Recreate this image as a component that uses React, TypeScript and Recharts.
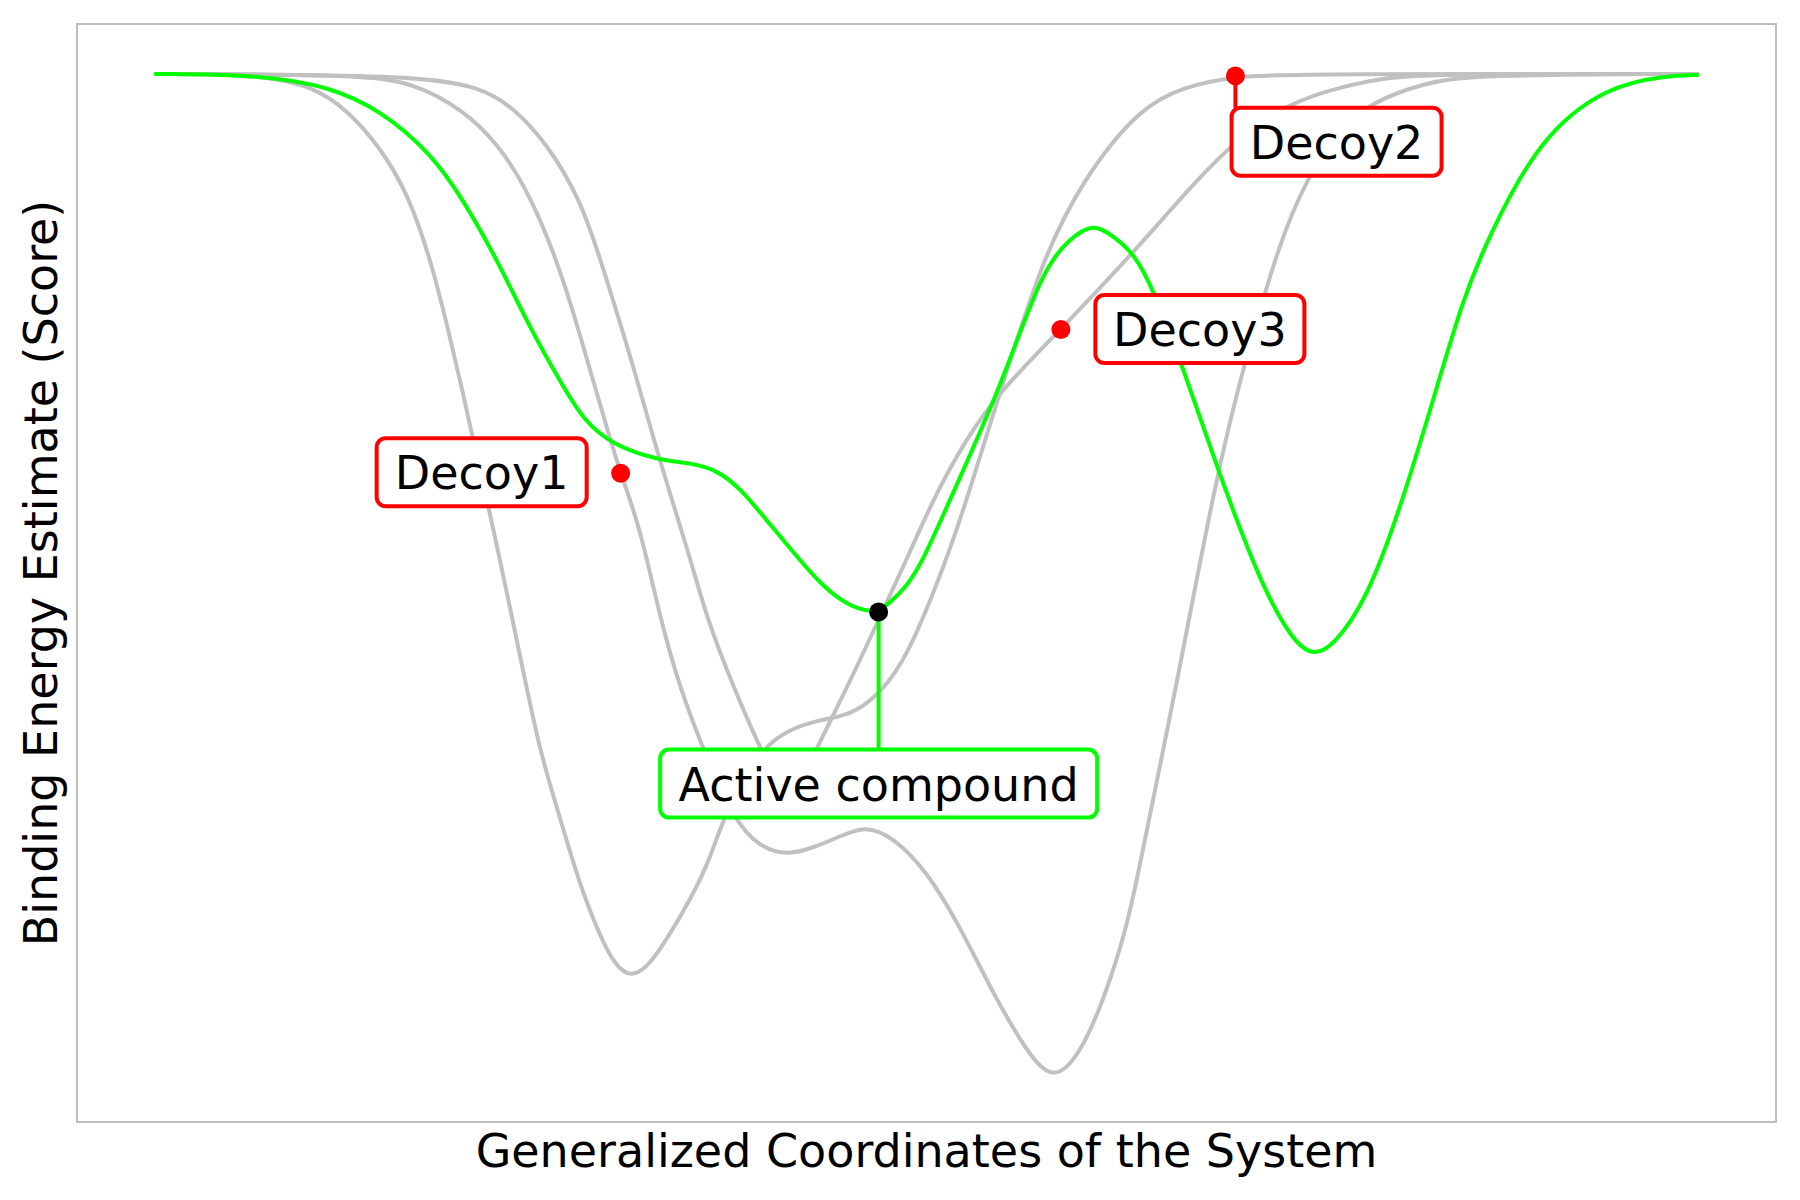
import React from 'react';
import { LineChart, Line, XAxis, YAxis, ReferenceDot, ReferenceLine, ReferenceArea } from 'recharts';

type Pt = [number, number];

// x = generalized coordinate, y = score (0 = unbound plateau, lower = stronger binding)
const activeCurve: Pt[] = [
  [0, 0], [0.7, -0.01], [1.14, -0.13], [1.46, -0.36], [1.79, -0.79], [2.0, -1.26], [2.22, -1.86],
  [2.43, -2.54], [2.65, -3.14], [2.78, -3.47], [2.97, -3.72], [3.26, -3.87], [3.49, -3.9], [3.64, -3.97],
  [3.79, -4.14], [3.99, -4.52], [4.18, -4.87], [4.31, -5.1], [4.44, -5.27], [4.57, -5.37], [4.69, -5.39],
  [4.76, -5.3], [4.87, -5.14], [4.98, -4.87], [5.15, -4.27], [5.48, -3.14], [5.75, -1.96], [5.92, -1.66],
  [6.08, -1.49], [6.21, -1.63], [6.34, -1.79], [6.47, -2.16], [6.66, -2.94], [6.88, -3.94], [7.16, -5.1],
  [7.37, -5.68], [7.5, -5.83], [7.63, -5.74], [7.85, -5.27], [8.07, -4.34], [8.28, -3.27], [8.47, -2.27],
  [8.63, -1.66], [8.97, -0.63], [9.41, -0.12], [9.78, -0.02], [10, -0.01],
];

// early deep well, shoulder, passes Decoy2
const decoyCurveA: Pt[] = [
  [0, 0], [0.7, -0.01], [1.03, -0.13], [1.25, -0.36], [1.46, -0.73], [1.64, -1.19], [1.79, -1.86],
  [1.9, -2.54], [2.0, -3.2], [2.06, -3.64], [2.17, -4.37], [2.32, -5.47], [2.41, -6.14], [2.5, -6.8],
  [2.63, -7.47], [2.76, -8.15], [2.89, -8.65], [2.98, -8.92], [3.08, -9.05], [3.18, -8.96], [3.26, -8.81],
  [3.42, -8.41], [3.58, -7.95], [3.68, -7.47], [3.81, -7.1], [3.94, -6.75], [4.12, -6.56], [4.29, -6.48],
  [4.44, -6.44], [4.55, -6.38], [4.7, -6.2], [4.87, -5.87], [5.13, -4.87], [5.26, -4.27], [5.5, -3.07],
  [5.75, -1.86], [6.01, -1.06], [6.38, -0.34], [6.66, -0.13], [7.0, -0.02], [7.46, 0], [10, 0],
];

// passes Decoy1, two wells with the global minimum
const decoyCurveB: Pt[] = [
  [0, 0], [1.35, -0.01], [1.68, -0.09], [2.0, -0.36], [2.22, -0.69], [2.43, -1.19], [2.65, -2.03],
  [2.84, -3.07], [2.96, -3.7], [3.02, -4.0], [3.15, -4.57], [3.27, -5.42], [3.4, -6.14], [3.55, -6.75],
  [3.75, -7.47], [3.92, -7.75], [4.1, -7.83], [4.27, -7.75], [4.44, -7.64], [4.6, -7.53], [4.78, -7.64],
  [5.0, -7.98], [5.22, -8.55], [5.43, -9.21], [5.65, -9.8], [5.82, -10.1], [5.99, -9.83], [6.14, -9.31],
  [6.3, -8.55], [6.4, -7.78], [6.51, -6.94], [6.6, -6.27], [6.88, -4.0], [7.05, -2.94], [7.29, -1.66],
  [7.46, -1.06], [7.68, -0.53], [7.89, -0.28], [8.22, -0.09], [8.54, -0.01], [10, 0],
];

// narrow well, passes Decoy3
const decoyCurveC: Pt[] = [
  [0, 0], [1.68, -0.01], [2.11, -0.13], [2.32, -0.33], [2.54, -0.69], [2.76, -1.26], [2.89, -1.86],
  [3.13, -3.07], [3.27, -3.87], [3.45, -4.74], [3.58, -5.47], [3.75, -6.14], [3.92, -6.75], [4.03, -7.07],
  [4.11, -7.2], [4.19, -7.09], [4.29, -6.75], [4.51, -6.07], [4.69, -5.47], [4.87, -4.87], [5.04, -4.27],
  [5.25, -3.67], [5.48, -3.17], [5.87, -2.56], [6.34, -1.79], [6.75, -1.06], [7.03, -0.63], [7.35, -0.29],
  [7.68, -0.13], [8.0, -0.03], [8.33, 0], [10, 0],
];

const markers = [
  { name: 'Active compound', x: 4.69, y: -5.39 },
  { name: 'Decoy1', x: 3.02, y: -4.0 },
  { name: 'Decoy2', x: 7.0, y: -0.02 },
  { name: 'Decoy3', x: 5.87, y: -2.56 },
];

// label placement (text centre in data units, box size in px)
const labelLayout: Record<string, { x: number; y: number; w: number; color: string; lineTo?: number }> = {
  'Active compound': { x: 4.69, y: -7.11, w: 437, color: '#00ff00', lineTo: -6.77 },
  Decoy1: { x: 2.12, y: -3.99, w: 210, color: '#ff0000' },
  Decoy2: { x: 7.655, y: -0.68, w: 210, color: '#ff0000', lineTo: -0.34 },
  Decoy3: { x: 6.77, y: -2.555, w: 209, color: '#ff0000' },
};

const FONT = '"DejaVu Sans", Verdana, sans-serif';
const FS = 46;
const GRAY = '#c0c0c0';
const LW = 4;
const toRows = (pts: Pt[]) => pts.map(([x, y]) => ({ x, y }));

function LabelBox(props: any) {
  const { cx, cy, text, w, color } = props;
  const h = 68;
  return (
    <g>
      <rect x={cx - w / 2} y={cy - h / 2} width={w} height={h} rx={9} ry={9}
        fill="#ffffff" stroke={color} strokeWidth={LW} />
      <text x={cx} y={cy + 17} textAnchor="middle" fontSize={FS} fontFamily={FONT} fill="#000">{text}</text>
    </g>
  );
}

export default function App() {
  return (
    <div style={{ position: 'absolute', left: 0, top: 0, width: 1800, height: 1200, background: '#fff' }}>
      <LineChart width={1800} height={1200} margin={{ top: 24, right: 24, bottom: 78, left: 77 }}>
        <XAxis type="number" dataKey="x" domain={[-0.5, 10.5]} allowDataOverflow hide />
        <YAxis type="number" domain={[-10.5, 0.5]} allowDataOverflow hide />
        <ReferenceArea x1={-0.5} x2={10.5} y1={-10.5} y2={0.5} fill="none" stroke="#bdbdbd" strokeWidth={2} />
        {[decoyCurveA, decoyCurveB, decoyCurveC].map((c, i) => (
          <Line key={i} data={toRows(c)} dataKey="y" type="basis" stroke={GRAY} strokeWidth={LW}
            dot={false} activeDot={false} isAnimationActive={false} />
        ))}
        <Line data={toRows(activeCurve)} dataKey="y" type="basis" stroke="#00ff00" strokeWidth={LW}
          dot={false} activeDot={false} isAnimationActive={false} />
        {markers.map((m) => {
          const lay = labelLayout[m.name];
          return lay.lineTo !== undefined ? (
            <ReferenceLine key={'c' + m.name} segment={[{ x: m.x, y: m.y }, { x: m.x, y: lay.lineTo }]}
              stroke={lay.color} strokeWidth={LW} />
          ) : null;
        })}
        {markers.map((m) => (
          <ReferenceDot key={'d' + m.name} x={m.x} y={m.y} r={9.5} stroke="none"
            fill={m.name === 'Active compound' ? '#000000' : '#ff0000'} />
        ))}
        {markers.map((m) => {
          const lay = labelLayout[m.name];
          return (
            <ReferenceDot key={'l' + m.name} x={lay.x} y={lay.y} r={1}
              shape={(p: any) => <LabelBox cx={p.cx} cy={p.cy} text={m.name} w={lay.w} color={lay.color} />} />
          );
        })}
      </LineChart>
      <svg width={1800} height={1200} style={{ position: 'absolute', left: 0, top: 0, pointerEvents: 'none' }}>
        <text x={926.5} y={1167} textAnchor="middle" fontSize={FS} fontFamily={FONT} fill="#000">
          Generalized Coordinates of the System
        </text>
        <text x={57} y={573} transform="rotate(-90 57 573)" textAnchor="middle" fontSize={FS} fontFamily={FONT} fill="#000">
          Binding Energy Estimate (Score)
        </text>
      </svg>
    </div>
  );
}
